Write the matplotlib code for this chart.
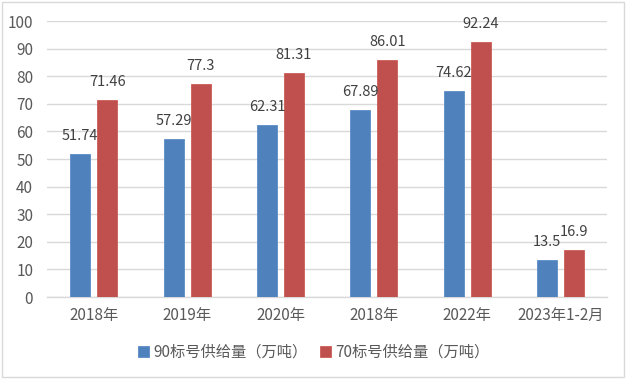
import numpy as np
import matplotlib.pyplot as plt

plt.rcParams['font.family'] = ['Noto Sans CJK SC', 'DejaVu Sans']

categories = ['2018年', '2019年', '2020年', '2018年', '2022年', '2023年1-2月']
supply_90 = [51.74, 57.29, 62.31, 67.89, 74.62, 13.5]
supply_70 = [71.46, 77.3, 81.31, 86.01, 92.24, 16.9]
series_names = ['90标号供给量（万吨）', '70标号供给量（万吨）']

blue = '#4F81BD'
red = '#C0504D'
grid_c = '#D9D9D9'
text_c = '#595959'

fig = plt.figure(figsize=(6.28, 3.83), dpi=100)
ax = fig.add_axes([0.075, 0.2245, 0.892, 0.7205])

x = np.arange(len(categories))
w = 0.215
b1 = ax.bar(x - 0.145, supply_90, w, color=blue, edgecolor='#5B8CC6', linewidth=0.6,
            label=series_names[0], zorder=3)
b2 = ax.bar(x + 0.145, supply_70, w, color=red, edgecolor='#CB5C59', linewidth=0.6,
            label=series_names[1], zorder=3)

ax.bar_label(b1, labels=[f'{v:g}' for v in supply_90], padding=8, fontsize=10.5, color='#404040')
ax.bar_label(b2, labels=[f'{v:g}' for v in supply_70], padding=8, fontsize=10.5, color='#404040')

ax.set_xlim(-0.5, len(categories) - 0.5)
ax.set_ylim(0, 100)
ax.set_yticks(range(0, 101, 10))
ax.yaxis.grid(True, color=grid_c, linewidth=1)
ax.set_axisbelow(True)
for s in ['top', 'right', 'left']:
    ax.spines[s].set_visible(False)
ax.spines['bottom'].set_color(grid_c)
ax.spines['bottom'].set_linewidth(1)

ax.set_xticks(x)
ax.set_xticklabels(categories)
ax.tick_params(axis='both', length=0, labelsize=11, colors=text_c)
ax.tick_params(axis='y', pad=10)
ax.tick_params(axis='x', pad=7)

fig.legend(loc='center', bbox_to_anchor=(0.5, 0.08), ncol=2, frameon=False,
           fontsize=11, handlelength=0.7, handleheight=0.7, handletextpad=0.3,
           columnspacing=0.8, labelcolor=text_c)

# outer border like the source image
fig.patches.append(plt.Rectangle((0.003, 0.015), 0.99, 0.98, transform=fig.transFigure,
                                 fill=False, edgecolor='#D9D9D9', linewidth=1))

plt.savefig('out.png', dpi=100)
plt.close()
